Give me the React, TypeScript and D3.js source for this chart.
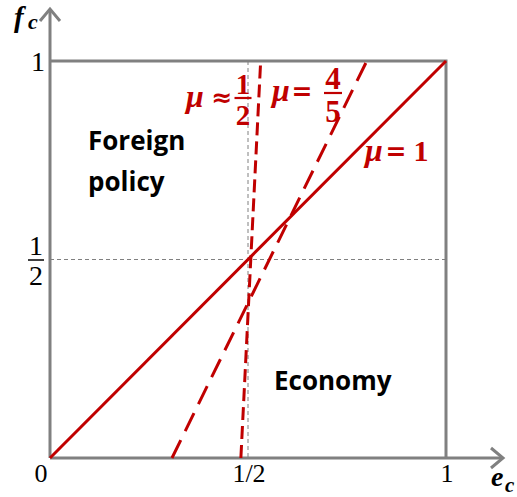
import React from "react";
import * as d3 from "d3";

const xTicks = [
  { v: 0, label: "0" },
  { v: 0.5, label: "1/2" },
  { v: 1, label: "1" },
];
const lineMuOne: [number, number][] = [
  [0, 0],
  [1, 1],
];
const lineMuFourFifths: [number, number][] = [
  [0.308, 0],
  [0.8, 1],
];
const lineMuHalf: [number, number][] = [
  [0.482, 0],
  [0.532, 1],
];
const regionLabels = ["Foreign", "policy", "Economy"];

const W = 517;
const H = 497;
const GRAY = "#808080";
const RED = "#C00000";
const SERIF = "'Liberation Serif', 'DejaVu Serif', serif";
const SANS = "'Open Sans', 'Noto Sans', sans-serif";
const OPS = "'DejaVu Sans', sans-serif";

export default function App() {
  const x = d3.scaleLinear().domain([0, 1]).range([50, 446]);
  const y = d3.scaleLinear().domain([0, 1]).range([458, 61]);
  const line = d3
    .line<[number, number]>()
    .x((d) => x(d[0]))
    .y((d) => y(d[1]));

  const frac = (
    cx: number,
    barY: number,
    num: string,
    den: string,
    color: string,
    size: number,
    bold: boolean,
    w: number,
    numGap: number,
    denGap: number
  ) => (
    <g fill={color} fontFamily={SERIF} fontSize={size} fontWeight={bold ? "bold" : "normal"} textAnchor="middle">
      <text x={cx} y={barY - numGap}>{num}</text>
      <line x1={cx - w / 2} x2={cx + w / 2} y1={barY} y2={barY} stroke={color} strokeWidth={bold ? 2.2 : 1.5} />
      <text x={cx} y={barY + denGap}>{den}</text>
    </g>
  );

  return (
    <svg width={W} height={H} style={{ position: "absolute", left: 0, top: 0 }}>
      <rect width={W} height={H} fill="white" />
      {/* guide dashed lines */}
      <line x1={x(0.5)} x2={x(0.5)} y1={y(1)} y2={y(0)} stroke={GRAY} strokeWidth={1} strokeDasharray="4 3" />
      <line x1={x(0)} x2={x(1)} y1={y(0.5)} y2={y(0.5)} stroke={GRAY} strokeWidth={1} strokeDasharray="4 3" />
      {/* box */}
      <polyline points={`${x(0)},${y(1)} ${x(1)},${y(1)} ${x(1)},${y(0)}`} fill="none" stroke={GRAY} strokeWidth={3} />
      {/* axes */}
      <line x1={x(0)} x2={503} y1={y(0)} y2={y(0)} stroke={GRAY} strokeWidth={3} />
      <polyline points={`491,${y(0) - 10} 503,${y(0)} 491,${y(0) + 10}`} fill="none" stroke={GRAY} strokeWidth={3} />
      <line x1={x(0)} x2={x(0)} y1={y(0)} y2={9} stroke={GRAY} strokeWidth={3} />
      <polyline points={`${x(0) - 10},21 ${x(0)},9 ${x(0) + 10},21`} fill="none" stroke={GRAY} strokeWidth={3} />
      {/* red lines */}
      <path d={line(lineMuOne) ?? ""} fill="none" stroke={RED} strokeWidth={3} />
      <path d={line(lineMuFourFifths) ?? ""} fill="none" stroke={RED} strokeWidth={3} strokeDasharray="20 10" />
      <path d={line(lineMuHalf) ?? ""} fill="none" stroke={RED} strokeWidth={3} strokeDasharray="13 6" />
      {/* x tick labels */}
      {xTicks.map((t) => (
        <text key={t.label} x={x(t.v) + (t.v === 0 ? -9 : 1)} y={482} textAnchor="middle" fontFamily={SERIF} fontSize={26} fill="#000">
          {t.label}
        </text>
      ))}
      {/* y tick labels */}
      <text x={38} y={71} textAnchor="middle" fontFamily={SERIF} fontSize={28} fill="#000">1</text>
      {frac(36, 260, "1", "2", "#000", 28, false, 16, 5, 25)}
      {/* axis names */}
      <text x={14} y={27} fontFamily={SERIF} fontSize={29} fontWeight="bold" fontStyle="italic" fill="#000">f</text>
      <text x={28} y={29} fontFamily={SERIF} fontSize={22} fontWeight="bold" fontStyle="italic" fill="#000">c</text>
      <text x={491} y={486} fontFamily={SERIF} fontSize={28} fontWeight="bold" fontStyle="italic" fill="#000">e</text>
      <text x={505} y={492} fontFamily={SERIF} fontSize={21} fontWeight="bold" fontStyle="italic" fill="#000">c</text>
      {/* region labels */}
      <text x={88} y={150} fontFamily={SANS} fontSize={26} fontWeight="bold" fill="#000">{regionLabels[0]}</text>
      <text x={88} y={191} fontFamily={SANS} fontSize={26} fontWeight="bold" fill="#000">{regionLabels[1]}</text>
      <text x={274} y={390} fontFamily={SANS} fontSize={26} fontWeight="bold" fill="#000">{regionLabels[2]}</text>
      {/* mu labels */}
      <g fill={RED} fontFamily={SERIF} fontWeight="bold" fontSize={32}>
        <text x={186} y={107} fontStyle="italic">μ</text>
        <text x={272} y={101} fontStyle="italic">μ</text>
        <text x={365} y={161} fontStyle="italic">μ</text>
        <text x={421} y={161} textAnchor="middle" fontSize={30}>1</text>
      </g>
      <g fill={RED} fontFamily={OPS} fontWeight="bold" fontSize={25} textAnchor="middle">
        <text x={222} y={106}>≈</text>
        <text x={302} y={100}>=</text>
        <text x={396} y={160}>=</text>
      </g>
      {frac(243, 98, "1", "2", RED, 29, true, 17, 4, 27)}
      {frac(333, 93, "4", "5", RED, 31, true, 18, 4, 29)}
    </svg>
  );
}
